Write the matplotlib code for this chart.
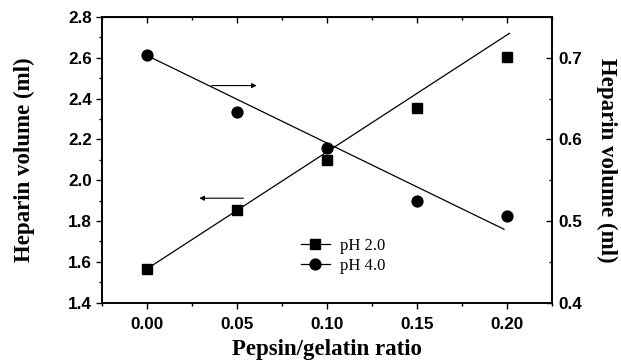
import matplotlib
matplotlib.use('Agg')
import matplotlib.pyplot as plt
from matplotlib.lines import Line2D
from matplotlib.ticker import MultipleLocator

# data
ratio = [0.00, 0.05, 0.10, 0.15, 0.20]
vol_ph2 = [1.565, 1.855, 2.100, 2.353, 2.606]   # left axis
vol_ph4 = [0.703, 0.634, 0.590, 0.525, 0.506]   # right axis

# hand-drawn trend lines (end points)
trend_x_ph2 = [0.0, 0.2015]
trend_y_ph2 = [1.565, 2.72]
trend_x_ph4 = [0.0, 0.1985]
trend_y_ph4 = [0.703, 0.490]

xticks = [0.00, 0.05, 0.10, 0.15, 0.20]
left_ticks = [1.4, 1.6, 1.8, 2.0, 2.2, 2.4, 2.6, 2.8]
right_ticks = [0.4, 0.5, 0.6, 0.7]

tick_font = {'family': 'Liberation Sans', 'weight': 'bold', 'size': 12.3}
label_font = {'family': 'Liberation Serif', 'weight': 'bold', 'size': 16.5}

fig = plt.figure(figsize=(6.21, 3.62), dpi=100)
ax = fig.add_axes([0.1638, 0.1638, 0.7246, 0.7892])
ax2 = ax.twinx()

ax.plot(ratio, vol_ph2, 's', color='black', markersize=6.5, zorder=3)
ax.plot(trend_x_ph2, trend_y_ph2, '-', color='black', lw=0.9)
ax2.plot(ratio, vol_ph4, 'o', color='black', markersize=7.8, zorder=3)
ax2.plot(trend_x_ph4, trend_y_ph4, '-', color='black', lw=0.9)

ax.set_xlim(-0.025, 0.225)
ax.set_ylim(1.4, 2.8)
ax2.set_ylim(0.4, 0.75)

ax.set_xticks(xticks)
ax.set_xticklabels([f'{v:.2f}' for v in xticks], fontdict=tick_font)
ax.set_yticks(left_ticks)
ax.set_yticklabels([f'{v:.1f}' for v in left_ticks], fontdict=tick_font)
ax2.set_yticks(right_ticks)
ax2.set_yticklabels([f'{v:.1f}' for v in right_ticks], fontdict=tick_font)

ax.xaxis.set_minor_locator(MultipleLocator(0.025))
ax.yaxis.set_minor_locator(MultipleLocator(0.1))
ax2.yaxis.set_minor_locator(MultipleLocator(0.05))

ax.tick_params(axis='x', which='major', direction='out', length=4, width=1, pad=6)
ax.tick_params(axis='x', which='minor', direction='out', length=2, width=1)
ax.tick_params(axis='y', which='major', direction='out', length=4, width=1, pad=3)
ax.tick_params(axis='y', which='minor', direction='out', length=2, width=1)
ax2.tick_params(axis='y', which='major', direction='in', length=4, width=1, pad=5)
ax2.tick_params(axis='y', which='minor', direction='in', length=2, width=1)

top = ax.secondary_xaxis('top')
top.set_xticks(xticks)
top.xaxis.set_minor_locator(MultipleLocator(0.025))
top.tick_params(axis='x', which='major', direction='in', length=4, width=1, labeltop=False)
top.tick_params(axis='x', which='minor', direction='in', length=2, width=1)

for a in (ax, ax2):
    for s in a.spines.values():
        s.set_linewidth(1.2)

ax.set_xlabel('Pepsin/gelatin ratio', fontdict=label_font, labelpad=5)
ax.set_ylabel('Heparin volume (ml)', fontdict=label_font, labelpad=24)
ax2.set_ylabel('Heparin volume (ml)', fontdict=label_font, rotation=270,
               va='bottom', labelpad=10)

# arrows pointing to the axis each series belongs to
arrow = dict(arrowstyle='-|>', lw=0.8, color='black', mutation_scale=7,
             shrinkA=0, shrinkB=0)
ax.annotate('', xy=(0.0611, 2.464), xytext=(0.0361, 2.464), arrowprops=arrow)
ax.annotate('', xy=(0.0292, 1.912), xytext=(0.0537, 1.912), arrowprops=arrow)

handles = [
    Line2D([], [], color='black', marker='s', markersize=6.5, lw=0.9),
    Line2D([], [], color='black', marker='o', markersize=7.8, lw=0.9),
]
ax.legend(handles, ['pH 2.0', 'pH 4.0'], loc='upper left',
          bbox_to_anchor=(0.41, 0.28), frameon=False, handlelength=1.7,
          handletextpad=0.6, labelspacing=0.25,
          prop={'family': 'Liberation Serif', 'size': 12})

fig.savefig('out.png', dpi=100, facecolor='white')
